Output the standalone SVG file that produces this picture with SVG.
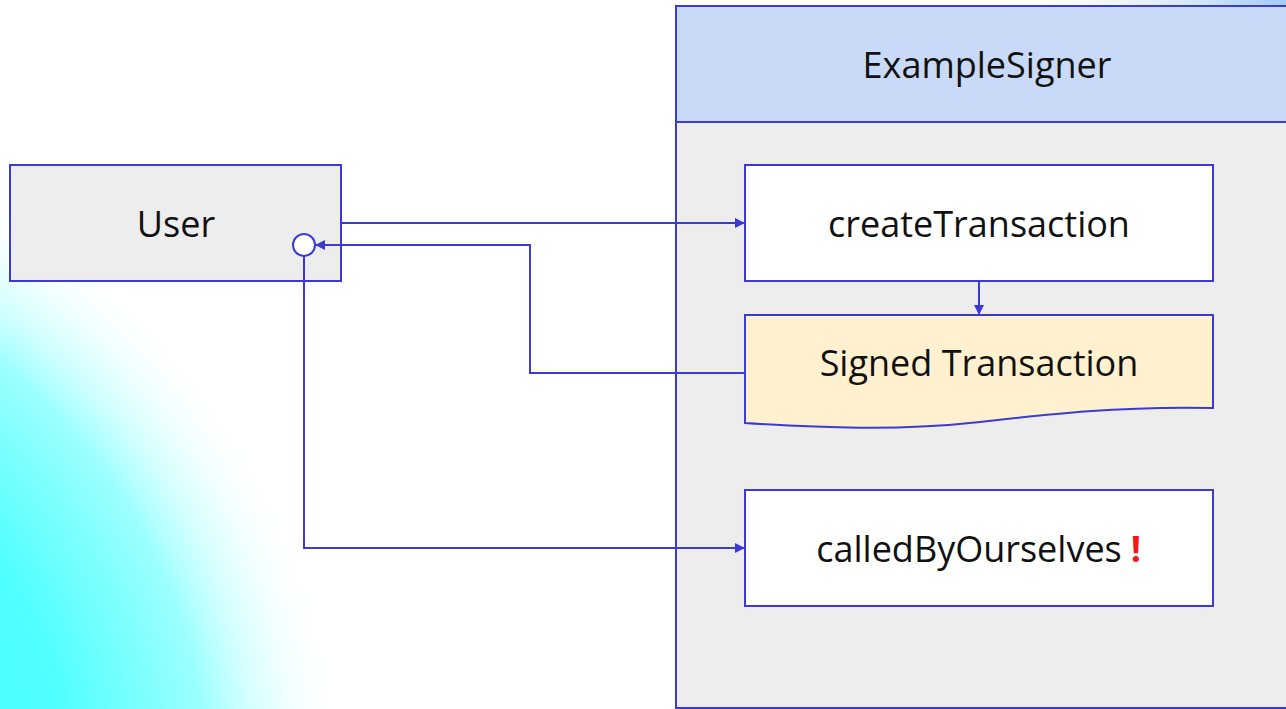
<svg xmlns="http://www.w3.org/2000/svg" width="1286" height="709" viewBox="0 0 1286 709">
  <defs>
    <radialGradient id="glowLeft" gradientUnits="userSpaceOnUse" cx="-350" cy="800" r="700">
      <stop offset="0" stop-color="#3CFFFF"/>
      <stop offset="0.6" stop-color="#50FFFF"/>
      <stop offset="0.8" stop-color="#9CFFFF"/>
      <stop offset="1" stop-color="#FFFFFF" stop-opacity="0"/>
    </radialGradient>
    <radialGradient id="glowRight" gradientUnits="userSpaceOnUse" cx="1330" cy="-20" r="330">
      <stop offset="0" stop-color="#7FB6F6"/>
      <stop offset="1" stop-color="#FFFFFF" stop-opacity="0"/>
    </radialGradient>
    <marker id="arrow" viewBox="0 0 10 10" refX="10" refY="5" markerWidth="10" markerHeight="10" markerUnits="userSpaceOnUse" orient="auto">
      <path d="M0,0 L10,5 L0,10 Z" fill="#3B3BD4"/>
    </marker>
  </defs>
  <style>
    .edge { fill: none; stroke: #3B3BD4; stroke-width: 2; }
    .box { stroke: #3B3BD4; stroke-width: 2; }
    .label { font-family: "Open Sans", "Liberation Sans", sans-serif; font-size: 36px; fill: #111111; text-anchor: middle; }
  </style>

  <!-- background -->
  <rect width="1286" height="709" fill="#FFFFFF"/>
  <rect width="1286" height="709" fill="url(#glowLeft)"/>
  <rect width="1286" height="709" fill="url(#glowRight)"/>

  <!-- ExampleSigner container -->
  <g id="example-signer">
    <rect class="box" x="676" y="6" width="640" height="702" fill="#EDEDED"/>
    <rect class="box" x="676" y="6" width="640" height="116" fill="#C9DAF8"/>
    <text class="label" x="987" y="78">ExampleSigner</text>
  </g>

  <!-- User -->
  <g id="user">
    <rect class="box" x="10" y="165" width="331" height="116" fill="#EDEDED"/>
    <text class="label" x="176" y="237">User</text>
  </g>

  <!-- createTransaction -->
  <g id="create-transaction">
    <rect class="box" x="745" y="165" width="468" height="116" fill="#FFFFFF"/>
    <text class="label" x="979" y="237">createTransaction</text>
  </g>

  <!-- Signed Transaction (document shape) -->
  <g id="signed-transaction">
    <path class="box" fill="#FFF1CF" d="M745,315 L1213,315 L1213,408 C1120,406 1050,414 980,422 C900,431 820,428 745,423 Z"/>
    <text class="label" x="979" y="376">Signed Transaction</text>
  </g>

  <!-- calledByOurselves -->
  <g id="called-by-ourselves">
    <rect class="box" x="745" y="490" width="468" height="116" fill="#FFFFFF"/>
    <text class="label" x="969" y="562">calledByOurselves</text>
    <text x="1136" y="562" font-family="Open Sans, Liberation Sans, sans-serif" font-size="36" font-weight="bold" fill="#F01818" text-anchor="middle">!</text>
  </g>

  <!-- connectors -->
  <g id="connectors">
    <path class="edge" d="M341,223 L745,223" marker-end="url(#arrow)"/>
    <path class="edge" d="M979,281 L979,315" marker-end="url(#arrow)"/>
    <path class="edge" d="M745,373 L530,373 L530,245 L315,245" marker-end="url(#arrow)"/>
    <path class="edge" d="M304,256 L304,548 L745,548" marker-end="url(#arrow)"/>
    <circle cx="304" cy="245" r="11" fill="#FFFFFF" stroke="#3B3BD4" stroke-width="2"/>
  </g>
</svg>
